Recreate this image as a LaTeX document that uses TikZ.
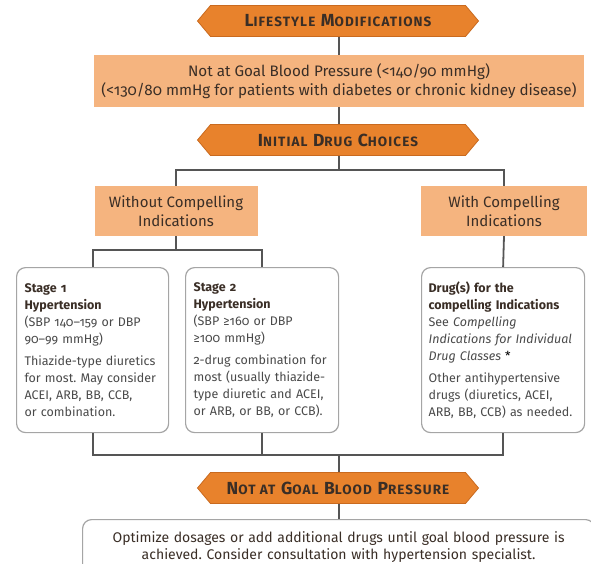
\documentclass[tikz,border=0pt]{standalone}
\usepackage{fontspec}
\setmainfont{Fira Sans}[Numbers=OldStyle]
\usetikzlibrary{shapes.symbols}
\frenchspacing

\definecolor{bannerorange}{HTML}{E8822C}
\definecolor{bannerdark}{HTML}{C96A1F}
\definecolor{paleorange}{HTML}{F5B47F}
\definecolor{linegrey}{HTML}{555555}
\definecolor{framegrey}{HTML}{A5A5A5}
\definecolor{inkbrown}{HTML}{3A2E26}
\definecolor{inkgrey}{HTML}{4A4A4A}

\newcommand{\lowcaps}[1]{{\fontsize{13.5pt}{15pt}\selectfont #1}}

\tikzset{
  banner/.style={signal, signal to=west and east, signal pointer angle=100,
    fill=bannerorange, draw=bannerdark, line width=0.8pt,
    minimum width=281pt, minimum height=31pt, inner sep=0pt,
    text=inkbrown, font=\fontsize{17.5pt}{18pt}\selectfont\bfseries\addfontfeatures{LetterSpace=8}},
  shaded/.style={fill=paleorange, text=inkbrown, align=center, inner sep=0pt,
    font=\fontsize{15pt}{19pt}\selectfont},
  stagebox/.style={draw=framegrey, line width=1.2pt, rounded corners=9pt,
    fill=white, text=inkgrey, align=left, anchor=north west, inner ysep=0pt,
    inner xsep=8pt, minimum height=165pt, font=\fontsize{12.5pt}{17pt}\selectfont},
  link/.style={draw=linegrey, line width=1.8pt}
}

\begin{document}
\begin{tikzpicture}[x=1pt, y=-1pt]
\useasboundingbox (0,0) rectangle (591,564);

\node[banner] (lifestyle) at (338,21) {L\lowcaps{IFESTYLE} M\lowcaps{ODIFICATIONS}};
\node[shaded, minimum width=490pt, minimum height=52pt, font=\fontsize{15.2pt}{19pt}\selectfont] (goalbox) at (339,81)
  {Not at Goal Blood Pressure (<140/90 mmHg)\\(<130/80 mmHg for patients with diabetes or chronic kidney disease)};
\node[banner] (initial) at (338,140) {I\lowcaps{NITIAL} D\lowcaps{RUG} C\lowcaps{HOICES}};

\node[shaded, minimum width=163pt, minimum height=50pt] (without) at (176,211) {Without Compelling\\Indications};
\node[shaded, minimum width=166pt, minimum height=50pt] (with) at (504,211) {With Compelling\\Indications};

\node[stagebox, text width=136pt] (stage1) at (16,267)
  {\textcolor{inkbrown}{\bfseries Stage 1\\Hypertension}\\(SBP 140–159 or DBP\\90–99 mmHg)\\[5pt]
   Thiazide-type diuretics\\for most. May consider\\ACEI, ARB, BB, CCB,\\or combination.};
\node[stagebox, text width=137pt] (stage2) at (185,267)
  {\textcolor{inkbrown}{\bfseries Stage 2\\Hypertension}\\(SBP ≥160 or DBP\\≥100 mmHg)\\[5pt]
   2-drug combination for\\most (usually thiazide-\\type diuretic and ACEI,\\or ARB, or BB, or CCB).};
\node[stagebox, inner xsep=7pt, text width=149pt] (compelling) at (421,267)
  {\textcolor{inkbrown}{\bfseries Drug(s) for the\\compelling Indications}\\See \textit{Compelling\\Indications for Individual\\Drug Classes} \textcolor{black}{*}\\[5pt]
   Other antihypertensive\\drugs (diuretics, ACEI,\\ARB, BB, CCB) as needed.};

\node[banner] (notgoal) at (338,488) {N\lowcaps{OT AT} G\lowcaps{OAL} B\lowcaps{LOOD} P\lowcaps{RESSURE}};
\node[stagebox, align=center, inner xsep=0pt, minimum width=512pt, minimum height=55pt, text width=512pt,
  font=\fontsize{14pt}{17pt}\selectfont, text=inkbrown] (final) at (82,519)
  {Optimize dosages or add additional drugs until goal blood pressure is\\achieved. Consider consultation with hypertension specialist.};

\coordinate (fork1) at (339,170);
\coordinate (fork2) at (176,250);
\coordinate (join) at (339,455);

\draw[link] (lifestyle.south -| goalbox) -- (goalbox);
\draw[link] (goalbox) -- (initial.north -| goalbox);
\draw[link] (initial.south -| fork1) -- (fork1);
\draw[link] (fork1) -| (without.north);
\draw[link] (fork1) -| (with.north);
\draw[link] (without.south) -- (fork2);
\draw[link] (fork2) -| (stage1.north);
\draw[link] (fork2) -| (stage2.north);
\draw[link] (with.south) -- (compelling.north);
\draw[link] (stage1.south) |- (join);
\draw[link] (stage2.south) |- (join);
\draw[link] (compelling.south) |- (join);
\draw[link] (join) -- (notgoal.north -| join);
\draw[link] (notgoal.south -| join) -- (final.north -| join);

\end{tikzpicture}
\end{document}
